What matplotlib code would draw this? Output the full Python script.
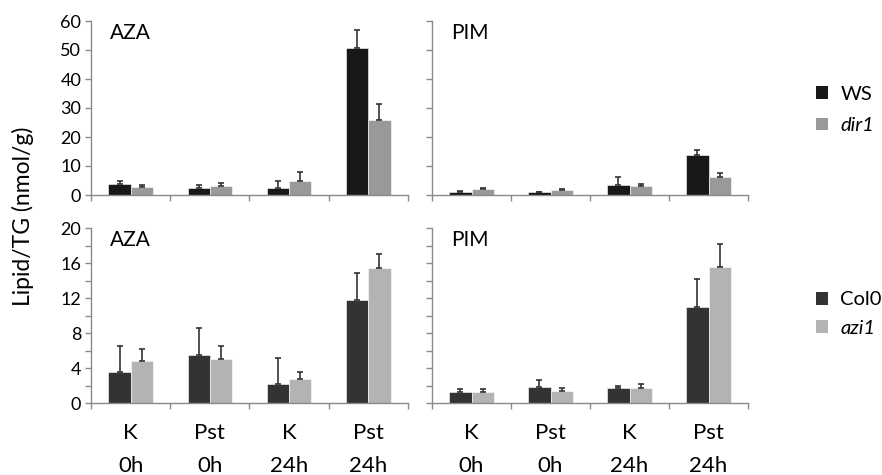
import matplotlib.pyplot as plt
from matplotlib.patches import Patch
from matplotlib.ticker import MultipleLocator

plt.rcParams['font.family'] = ['Lato', 'DejaVu Sans']

conditions = ['K\n0h', 'Pst\n0h', 'K\n24h', 'Pst\n24h']

# top row: WS vs dir1
aza_ws = [3.9, 2.4, 2.4, 50.8]
aza_ws_err = [1.1, 0.9, 2.4, 6.1]
aza_dir1 = [2.65, 3.0, 4.7, 26.0]
aza_dir1_err = [0.65, 1.1, 3.1, 5.5]
pim_ws = [1.15, 0.9, 3.4, 13.9]
pim_ws_err = [0.35, 0.25, 2.9, 1.7]
pim_dir1 = [1.95, 1.7, 3.0, 6.1]
pim_dir1_err = [0.45, 0.5, 0.8, 1.4]

# bottom row: Col0 vs azi1
aza_col0 = [3.5, 5.45, 2.2, 11.8]
aza_col0_err = [3.0, 3.1, 3.0, 3.1]
aza_azi1 = [4.85, 5.05, 2.75, 15.5]
aza_azi1_err = [1.35, 1.45, 0.8, 1.55]
pim_col0 = [1.22, 1.87, 1.68, 10.96]
pim_col0_err = [0.35, 0.8, 0.27, 3.24]
pim_azi1 = [1.3, 1.41, 1.68, 15.6]
pim_azi1_err = [0.35, 0.34, 0.46, 2.65]

c_ws, c_dir1 = '#171919', '#999999'
c_col0, c_azi1 = '#333333', '#b3b3b3'
spine_c = '#8a8a8a'

fig = plt.figure(figsize=(8.82, 4.75), dpi=100)
W, H = 882, 475


def make_ax(x0, x1, ytop, ybot):
    return fig.add_axes([x0 / W, 1 - ybot / H, (x1 - x0) / W, (ybot - ytop) / H])


ax_tl = make_ax(91, 408, 21, 195)
ax_tr = make_ax(432, 748, 21, 195)
ax_bl = make_ax(91, 408, 228.3, 403)
ax_br = make_ax(432, 748, 228.3, 403)

bw = 0.28
centers = [i + 0.5 for i in range(len(conditions))]


def draw(ax, a, a_err, b, b_err, ca, cb, title, ymax, step, minor, labels):
    xa = [c - bw / 2 for c in centers]
    xb = [c + bw / 2 for c in centers]
    ax.bar(xa, a, width=bw, color=ca, edgecolor='white', linewidth=0.4, zorder=2)
    ax.bar(xb, b, width=bw, color=cb, edgecolor='white', linewidth=0.4, zorder=2)
    for xs, v, e in ((xa, a, a_err), (xb, b, b_err)):
        ax.errorbar(xs, v, yerr=[[0] * len(e), e], fmt='none', ecolor='#333333',
                    elinewidth=1.2, capsize=2.5, capthick=1.2, zorder=3)
    ax.set_xlim(0, 4)
    ax.set_ylim(0, ymax)
    ax.set_xticks(range(5))
    ax.set_xticklabels([])
    ax.yaxis.set_major_locator(MultipleLocator(step))
    if minor:
        ax.yaxis.set_minor_locator(MultipleLocator(minor))
    for s in ('top', 'right'):
        ax.spines[s].set_visible(False)
    for s in ('left', 'bottom'):
        ax.spines[s].set_color(spine_c)
        ax.spines[s].set_linewidth(1.0)
    ax.tick_params(axis='both', which='both', direction='out', length=4,
                   color=spine_c, width=1.0, labelsize=13, pad=3)
    if not labels:
        ax.set_yticklabels([])
    ax.text(0.06, 0.99, title, transform=ax.transAxes, ha='left', va='top',
            fontsize=15)


draw(ax_tl, aza_ws, aza_ws_err, aza_dir1, aza_dir1_err, c_ws, c_dir1, 'AZA', 60, 10, None, True)
draw(ax_tr, pim_ws, pim_ws_err, pim_dir1, pim_dir1_err, c_ws, c_dir1, 'PIM', 60, 10, None, False)
draw(ax_bl, aza_col0, aza_col0_err, aza_azi1, aza_azi1_err, c_col0, c_azi1, 'AZA', 20, 4, 2, True)
draw(ax_br, pim_col0, pim_col0_err, pim_azi1, pim_azi1_err, c_col0, c_azi1, 'PIM', 20, 4, 2, False)

# two-line category labels under the bottom panels
for ax in (ax_bl, ax_br):
    tr = ax.get_xaxis_transform()
    for c, lab in zip(centers, conditions):
        top, bot = lab.split('\n')
        ax.text(c, -0.172, top, transform=tr, ha='center', va='center', fontsize=16)
        ax.text(c, -0.36, bot, transform=tr, ha='center', va='center', fontsize=16)

fig.text(23 / W, 1 - 216 / H, 'Lipid/TG (nmol/g)', rotation=90,
         ha='center', va='center', fontsize=16.5)


def add_legend(names, colors, y_center, spacing):
    handles = [Patch(facecolor=c, edgecolor='none') for c in colors]
    leg = fig.legend(handles, names, loc='center left',
                     bbox_to_anchor=(806 / W, 1 - y_center / H), frameon=False,
                     handlelength=0.6, handleheight=0.6, handletextpad=0.6,
                     labelspacing=spacing, fontsize=14.5, borderpad=0)
    leg.get_texts()[1].set_style('italic')


add_legend(['WS', 'dir1'], [c_ws, c_dir1], 110, 0.7)
add_legend(['Col0', 'azi1'], [c_col0, c_azi1], 314, 0.55)

fig.savefig('out.png', dpi=100)
